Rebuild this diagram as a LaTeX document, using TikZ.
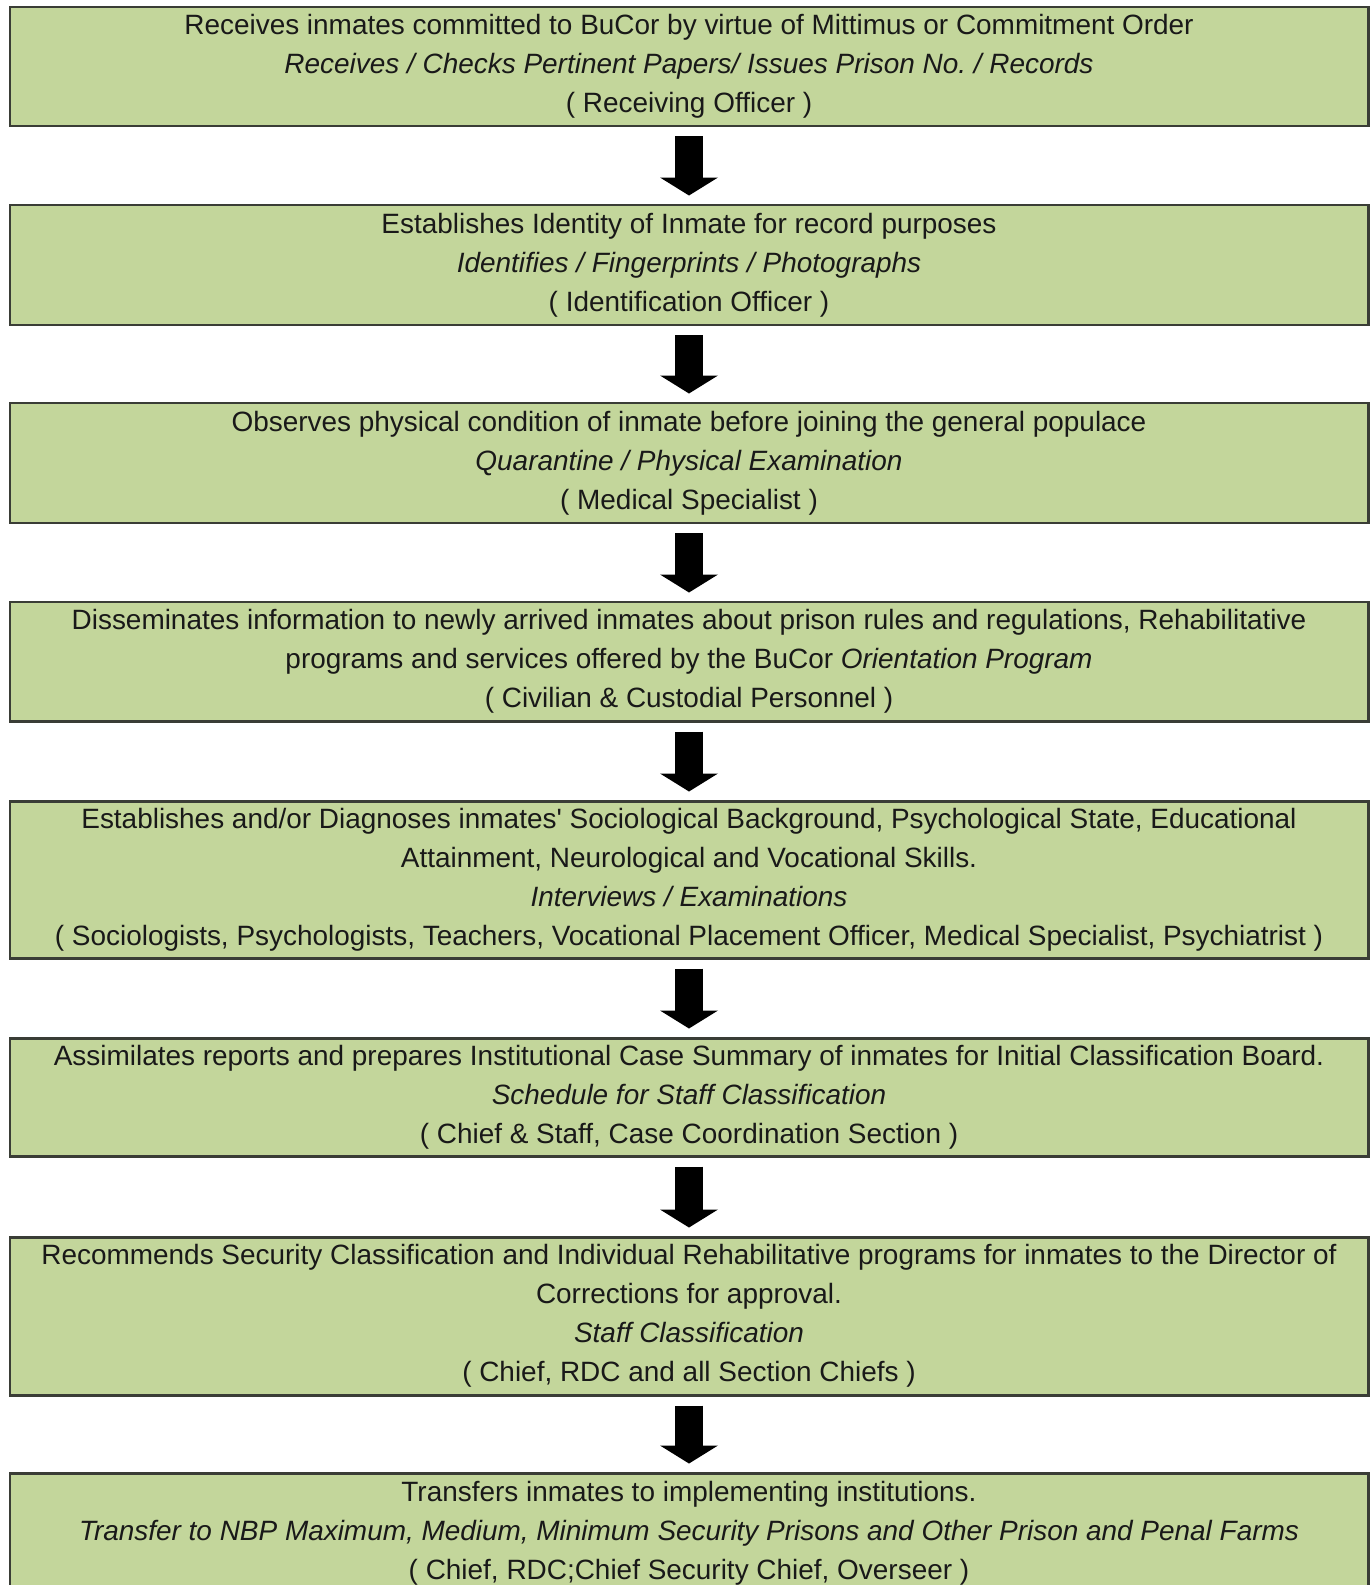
\documentclass[tikz,border=0pt]{standalone}
\usepackage{fontspec}
\setmainfont{Liberation Sans}
\usepackage{tikz}
\usetikzlibrary{arrows.meta}
\definecolor{boxgreen}{HTML}{C3D69B}
\definecolor{boxline}{HTML}{3A3D36}

\begin{document}
\begin{tikzpicture}[
    stage/.style={draw=boxline, line width=0.85pt, fill=boxgreen,
        minimum width=13.58cm, inner sep=0pt, align=center,
        text=black!90, font=\fontsize{7.95}{11.1}\selectfont},
    down/.style={-{Triangle[width=0.58cm,length=0.18cm,line width=0pt]},
        line width=0.28cm, shorten <=0.09cm, shorten >=0.08cm}
]

\useasboundingbox (0,0) rectangle (13.7,-15.85);

% Stages
\node[stage, minimum height=1.19cm] (receive) at (6.89,-0.665)
    {Receives inmates committed to BuCor by virtue of Mittimus or Commitment Order\\
     \textit{Receives / Checks Pertinent Papers/ Issues Prison No.\ / Records}\\
     ( Receiving Officer )};
\node[stage, minimum height=1.20cm] (identify) at (6.89,-2.65)
    {Establishes Identity of Inmate for record purposes\\
     \textit{Identifies / Fingerprints / Photographs}\\
     ( Identification Officer )};
\node[stage, minimum height=1.20cm] (observe) at (6.89,-4.63)
    {Observes physical condition of inmate before joining the general populace\\
     \textit{Quarantine / Physical Examination}\\
     ( Medical Specialist )};
\node[stage, minimum height=1.19cm] (orient) at (6.89,-6.615)
    {Disseminates information to newly arrived inmates about prison rules and regulations, Rehabilitative\\
     programs and services offered by the BuCor \textit{Orientation Program}\\
     ( Civilian \& Custodial Personnel )};
\node[stage, minimum height=1.57cm] (diagnose) at (6.89,-8.795)
    {Establishes and/or Diagnoses inmates\textquotesingle{} Sociological Background, Psychological State, Educational\\
     Attainment, Neurological and Vocational Skills.\\
     \textit{Interviews / Examinations}\\
     ( Sociologists, Psychologists, Teachers, Vocational Placement Officer, Medical Specialist, Psychiatrist )};
\node[stage, minimum height=1.18cm] (summary) at (6.89,-10.97)
    {Assimilates reports and prepares Institutional Case Summary of inmates for Initial Classification Board.\\
     \textit{Schedule for Staff Classification}\\
     ( Chief \& Staff, Case Coordination Section )};
\node[stage, minimum height=1.58cm] (recommend) at (6.89,-13.16)
    {Recommends Security Classification and Individual Rehabilitative programs for inmates to the Director of\\
     Corrections for approval.\\
     \textit{Staff Classification}\\
     ( Chief, RDC and all Section Chiefs )};
\node[stage, minimum height=1.20cm] (transfer) at (6.89,-15.33)
    {Transfers inmates to implementing institutions.\\
     \textit{Transfer to NBP Maximum, Medium, Minimum Security Prisons and Other Prison and Penal Farms}\\
     ( Chief, RDC;Chief Security Chief, Overseer )};

% Arrows
\draw[down] (receive) -- (identify);
\draw[down] (identify) -- (observe);
\draw[down] (observe) -- (orient);
\draw[down] (orient) -- (diagnose);
\draw[down] (diagnose) -- (summary);
\draw[down] (summary) -- (recommend);
\draw[down] (recommend) -- (transfer);

\end{tikzpicture}
\end{document}
